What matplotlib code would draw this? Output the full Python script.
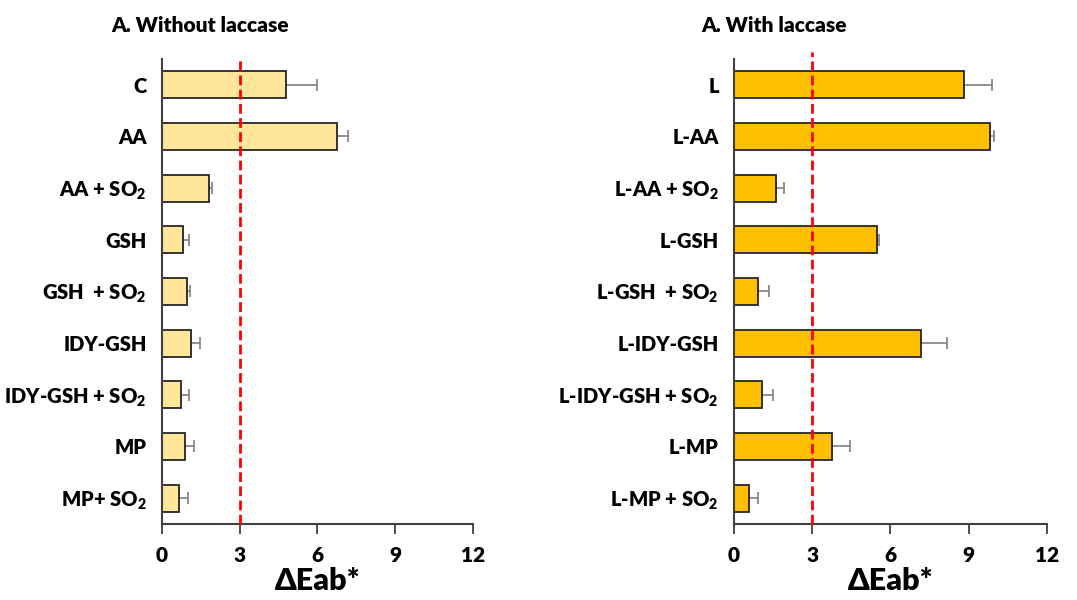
import matplotlib
matplotlib.use("Agg")
import matplotlib.pyplot as plt
import numpy as np

plt.rcParams['font.family'] = ['Lato', 'DejaVu Sans']
plt.rcParams['font.weight'] = 'heavy'
plt.rcParams['axes.labelweight'] = 'heavy'
plt.rcParams['mathtext.fontset'] = 'custom'
plt.rcParams['mathtext.rm'] = 'Lato:heavy'
plt.rcParams['mathtext.it'] = 'Lato:heavy'
plt.rcParams['mathtext.bf'] = 'Lato:heavy'
plt.rcParams['mathtext.default'] = 'rm'

# without laccase
labels_a = ['C', 'AA', 'AA + SO$_2$', 'GSH', 'GSH  + SO$_2$', 'IDY-GSH',
            'IDY-GSH + SO$_2$', 'MP', 'MP+ SO$_2$']
values_a = [4.79, 6.76, 1.81, 0.81, 0.98, 1.13, 0.75, 0.90, 0.66]
errors_a = [1.20, 0.42, 0.13, 0.25, 0.12, 0.35, 0.30, 0.32, 0.36]

# with laccase
labels_b = ['L', 'L-AA', 'L-AA + SO$_2$', 'L-GSH', 'L-GSH  + SO$_2$', 'L-IDY-GSH',
            'L-IDY-GSH + SO$_2$', 'L-MP', 'L-MP + SO$_2$']
values_b = [8.83, 9.80, 1.63, 5.50, 0.93, 7.17, 1.09, 3.77, 0.59]
errors_b = [1.06, 0.18, 0.28, 0.05, 0.40, 1.00, 0.40, 0.66, 0.33]

threshold = 3
xticks = [0, 3, 6, 9, 12]

fig = plt.figure(figsize=(10.77, 6), dpi=100)
ax1 = fig.add_axes([0.1504, 0.1267, 0.2888, 0.775])
ax2 = fig.add_axes([0.6815, 0.1267, 0.2906, 0.775])

def draw(ax, labels, values, errors, color, dash_top):
    y = np.arange(len(labels))
    # only the upper half of the error bar is shown
    ax.errorbar(values, y, xerr=[np.zeros(len(errors)), errors], fmt='none',
                ecolor='#7f7f7f', elinewidth=1.2, capsize=4, capthick=1.2, zorder=1)
    ax.barh(y, values, height=0.52, color=color, edgecolor='#262626', linewidth=1.3,
            zorder=2)
    ax.axvline(threshold, ymin=0, ymax=dash_top, color='#ff0000', lw=2,
               linestyle=(0, (3.5, 1.6)), zorder=3, clip_on=False)
    ax.set_ylim(len(labels) - 0.5, -0.5)
    ax.set_xlim(0, 12)
    ax.set_xticks(xticks)
    ax.set_yticks(y)
    ax.set_yticklabels(labels, fontsize=14.5)
    ax.tick_params(axis='y', length=0, pad=11)
    ax.tick_params(axis='x', length=7, width=1.3, color='#404040', labelsize=15, pad=9)
    for s in ['top', 'right']:
        ax.spines[s].set_visible(False)
    for s in ['left', 'bottom']:
        ax.spines[s].set_linewidth(1.5)
        ax.spines[s].set_color('#404040')
    ax.set_xlabel('ΔEab*', fontsize=22, fontweight='heavy', labelpad=1)

draw(ax1, labels_a, values_a, errors_a, '#ffe699', 1.0)
draw(ax2, labels_b, values_b, errors_b, '#ffc000', 1.015)

fig.text(0.1037, 0.958, 'A. Without laccase', fontsize=15, va='center')
fig.text(0.6515, 0.958, 'A. With laccase', fontsize=15, va='center')

fig.savefig('out.png', dpi=100)
